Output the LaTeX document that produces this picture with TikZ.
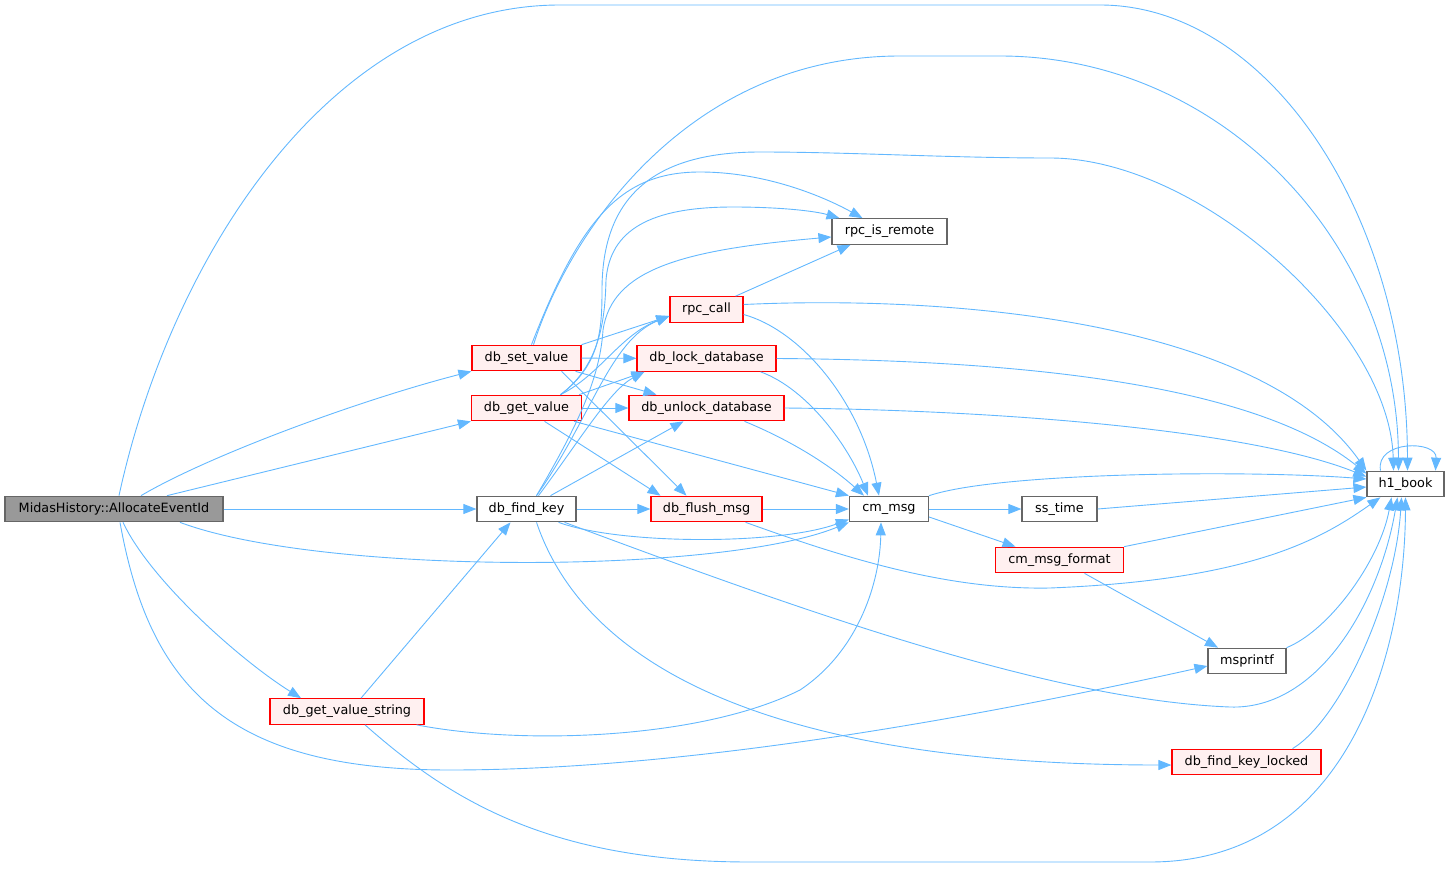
\documentclass[tikz,border=0pt]{standalone}
\usepackage{fontspec}
\setmainfont{DejaVu Sans}
\usetikzlibrary{arrows.meta}
\definecolor{edgeblue}{HTML}{63B8FF}
\definecolor{boxgray}{HTML}{666666}
\definecolor{rootfill}{HTML}{999999}
\definecolor{redfill}{HTML}{FFF0F0}
\begin{document}
\begin{tikzpicture}[x=1pt,y=-1pt,
  fn/.style={draw=boxgray,fill=white,line width=1.2pt,minimum height=25.5pt,inner sep=0pt,font=\fontsize{12.8}{15}\selectfont},
  hot/.style={fn,draw=red,fill=redfill},
  root/.style={fn,fill=rootfill},
  call/.style={draw=edgeblue,line width=0.9pt,-{Triangle[length=13pt,width=10pt]}}]
\useasboundingbox (0,0) rectangle (1449,870);

\node[root,minimum width=218pt] (alloc) at (114,509) {MidasHistory::AllocateEventId};
\node[hot,minimum width=109pt] (setv) at (526.5,358) {db\_set\_value};
\node[hot,minimum width=110pt] (getv) at (526.5,408) {db\_get\_value};
\node[fn,minimum width=99pt] (findk) at (526.5,509) {db\_find\_key};
\node[hot,minimum width=154pt] (getvs) at (347,711.5) {db\_get\_value\_string};
\node[hot,minimum width=73pt] (rpccall) at (706.5,309.5) {rpc\_call};
\node[hot,minimum width=139pt] (lockdb) at (706.5,358.5) {db\_lock\_database};
\node[hot,minimum width=155pt] (unlockdb) at (706.5,408) {db\_unlock\_database};
\node[hot,minimum width=111pt] (flush) at (706.5,509) {db\_flush\_msg};
\node[fn,minimum width=115pt] (isremote) at (889.5,231.5) {rpc\_is\_remote};
\node[fn,minimum width=79pt] (cmmsg) at (889,509) {cm\_msg};
\node[fn,minimum width=75pt] (sstime) at (1059.5,509) {ss\_time};
\node[hot,minimum width=128pt] (fmt) at (1059.5,560) {cm\_msg\_format};
\node[fn,minimum width=78pt] (msprintf) at (1247,661) {msprintf};
\node[hot,minimum width=149pt] (findkl) at (1246.5,762) {db\_find\_key\_locked};
\node[fn,minimum width=77pt] (h1) at (1405.5,484) {h1\_book};

\foreach \a/\b in {alloc/findk,findk/flush,flush/cmmsg,setv/lockdb,getv/unlockdb,cmmsg/sstime}
  \draw[call] (\a) -- (\b);

\draw[call] ([xshift=5pt]alloc.north) .. controls (170,260) and (330,5) .. (560,5) -- (1100,5) .. controls (1268,5) and (1407,214) .. ([xshift=2pt]h1.north);
\draw[call] ([xshift=27pt]alloc.north) .. controls (210,455) and (360,400) .. (setv.south west);
\draw[call] ([xshift=53pt]alloc.north) -- (getv.south west);
\draw[call] ([xshift=66pt]alloc.south) .. controls (320,575) and (720,575) .. (cmmsg.south west);
\draw[call] ([xshift=9pt]alloc.south) .. controls (150,580) and (240,660) .. ([xshift=-46pt]getvs.north);
\draw[call] ([xshift=6pt]alloc.south) .. controls (150,690) and (230,770) .. (450,770) .. controls (700,770) and (1000,712) .. ([yshift=-5pt]msprintf.west);

\draw[call] ([xshift=7pt]setv.north) .. controls (570,230) and (690,56) .. (900,56) -- (1000,56) .. controls (1220,56) and (1398,241) .. ([xshift=-7pt]h1.north);
\draw[call] ([xshift=5pt]setv.north) .. controls (580,220) and (620,172) .. (700,172) .. controls (770,172) and (830,200) .. ([xshift=-27pt]isremote.north);
\draw[call] (setv.north east) -- ([yshift=-6.5pt]rpccall.west);
\draw[call] ([xshift=-6pt]setv.south east) -- ([xshift=-50pt]unlockdb.north);
\draw[call] ([xshift=35pt]setv.south) -- ([xshift=-20pt]flush.north);

\draw[call] ([xshift=34pt]getv.north) .. controls (600,365) and (602,330) .. (602,290) .. controls (602,200) and (650,152) .. (760,152) .. controls (850,152) and (950,158) .. (1050,158) .. controls (1200,158) and (1390,330) .. ([xshift=-12pt]h1.north);
\draw[call] ([xshift=34pt]getv.north) .. controls (600,365) and (605,320) .. (606,280) .. controls (610,230) and (650,207) .. (733,207) .. controls (780,207) and (815,211) .. ([xshift=-50pt]isremote.north);
\draw[call] ([xshift=34pt]getv.north) .. controls (600,375) and (620,335) .. ([yshift=-6.5pt]rpccall.west);
\draw[call] ([xshift=-3pt]getv.north east) -- ([xshift=8pt]lockdb.south west);
\draw[call] ([xshift=18pt]getv.south) -- ([xshift=-46pt]flush.north);
\draw[call] ([xshift=-8pt]getv.south east) -- (cmmsg.north west);

\draw[call] ([xshift=10pt]findk.north) .. controls (575,430) and (600,380) .. (603,330) .. controls (612,270) and (680,250) .. ([yshift=-5.5pt]isremote.west);
\draw[call] ([xshift=10pt]findk.north) .. controls (590,420) and (610,340) .. ([yshift=-6.5pt]rpccall.west);
\draw[call] ([xshift=12pt]findk.north) .. controls (580,440) and (610,390) .. ([xshift=8pt]lockdb.south west);
\draw[call] ([xshift=24pt]findk.north) -- ([xshift=-23pt]unlockdb.south);
\draw[call] ([xshift=-18pt]findk.south east) .. controls (620,545) and (780,545) .. ([yshift=3pt]cmmsg.south west);
\draw[call] ([xshift=-12pt]findk.south east) .. controls (800,610) and (1050,700) .. (1230,707) .. controls (1320,710) and (1380,600) .. ([xshift=-8pt]h1.south);
\draw[call] ([xshift=10pt]findk.south) .. controls (590,680) and (800,765) .. ([yshift=-3pt]findkl.west);

\draw[call] ([xshift=14pt]getvs.north) -- ([xshift=-16pt]findk.south);
\draw[call] ([xshift=-8pt]getvs.south east) .. controls (520,745) and (700,740) .. (800,690) .. controls (860,650) and (880,580) .. ([xshift=-8pt]cmmsg.south);
\draw[call] ([xshift=18pt]getvs.south) .. controls (450,800) and (550,862) .. (750,862) -- (1150,862) .. controls (1350,862) and (1405,650) .. (h1.south);

\draw[call] ([xshift=-8pt]rpccall.north east) -- ([xshift=-39pt]isremote.south);
\draw[call] ([yshift=5pt]rpccall.east) .. controls (950,295) and (1260,320) .. (h1.north west);
\draw[call] ([yshift=-5pt]rpccall.east) .. controls (800,330) and (860,400) .. ([xshift=-10pt]cmmsg.north);
\draw[call] (lockdb.east) .. controls (1000,360) and (1250,380) .. ([yshift=-3pt]h1.north west);
\draw[call] ([xshift=-16pt]lockdb.south east) .. controls (810,390) and (850,450) .. ([xshift=-21pt]cmmsg.north);
\draw[call] (unlockdb.east) .. controls (1000,410) and (1250,430) .. ([yshift=-6pt]h1.north west);
\draw[call] ([xshift=38pt]unlockdb.south) .. controls (790,440) and (830,465) .. ([xshift=-25pt]cmmsg.north);
\draw[call] ([xshift=-17pt]flush.south east) .. controls (850,560) and (950,590) .. (1050,588) .. controls (1250,580) and (1320,540) .. ([xshift=14pt]h1.south west);

\draw[call] (cmmsg.north east) .. controls (1000,472) and (1250,470) .. ([yshift=5pt]h1.west);
\draw[call] ([yshift=-8pt]cmmsg.east) -- ([xshift=-44pt]fmt.north);
\draw[call] (sstime.east) -- ([yshift=-3pt]h1.west);
\draw[call] (fmt.north east) -- (h1.south west);
\draw[call] ([xshift=25pt]fmt.south) -- ([xshift=-29pt]msprintf.north);
\draw[call] (msprintf.north east) .. controls (1330,630) and (1380,560) .. ([xshift=-14pt]h1.south);
\draw[call] ([xshift=46pt]findkl.north) .. controls (1340,720) and (1395,600) .. ([xshift=-4pt]h1.south);
\draw[call] ([xshift=-25pt]h1.north) .. controls (1375,440) and (1437,440) .. ([xshift=30pt]h1.north);
\end{tikzpicture}
\end{document}
